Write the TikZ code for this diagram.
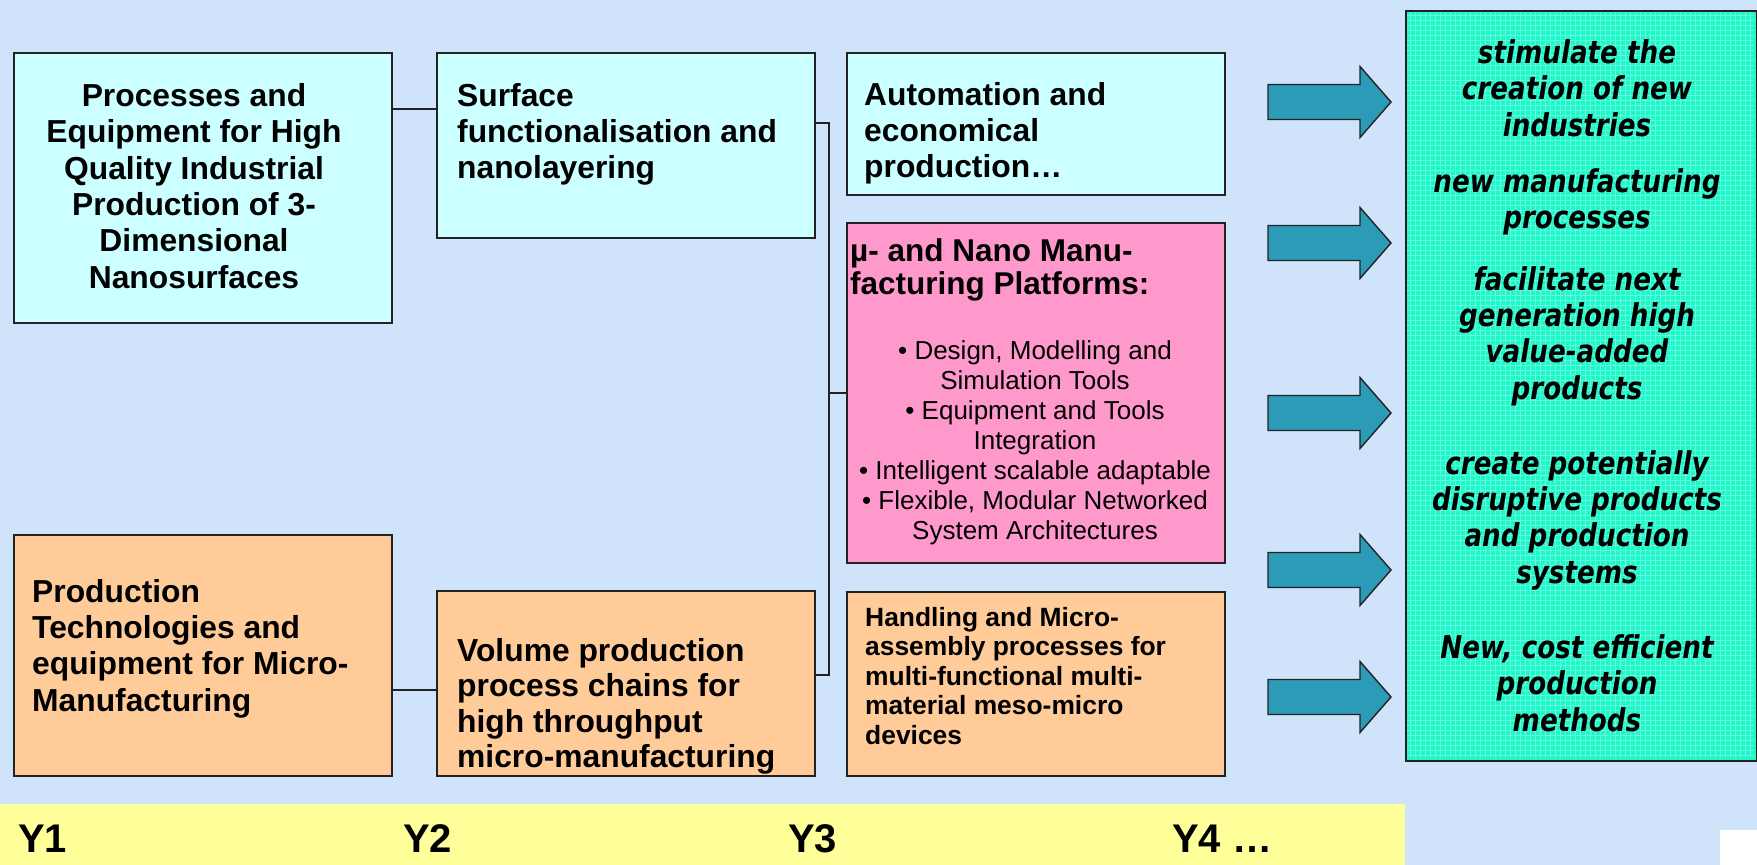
\documentclass[tikz,border=0pt]{standalone}
\usepackage{fontspec}
\usepackage{graphicx}
\setmainfont{Liberation Sans}
\newfontfamily\vfont{DejaVu Sans}
\definecolor{bg}{HTML}{CFE3FA}
\definecolor{cyanbox}{HTML}{CCFFFF}
\definecolor{orangebox}{HTML}{FFCC99}
\definecolor{pinkbox}{HTML}{FF99CC}
\definecolor{greenbox}{HTML}{22F5C8}
\definecolor{greengrid}{HTML}{5CFFDD}
\definecolor{yellowband}{HTML}{FFFF99}
\definecolor{arrowfill}{HTML}{2C9BB8}
\definecolor{edge}{HTML}{222222}
\newcommand\boxfont{\fontsize{31.8pt}{36.3pt}\selectfont\bfseries}
\newcommand\gboxfont{\fontsize{31.8pt}{35.5pt}\selectfont\bfseries}
\newcommand\titlefont{\fontsize{31.5pt}{33.5pt}\selectfont\bfseries}
\newcommand\bulletfont{\fontsize{26pt}{30pt}\selectfont}
\newcommand\handfont{\fontsize{26.4pt}{29.5pt}\selectfont\bfseries}
\newcommand\greenfont{\fontsize{26.2pt}{30.3pt}\selectfont\vfont\bfseries\itshape}
\newcommand\yfont{\fontsize{40pt}{44pt}\selectfont\bfseries}
\newcommand\gtext[1]{\scalebox{1}[1.2]{\begin{tabular}{@{}c@{}}#1\end{tabular}}}
\begin{document}
\begin{tikzpicture}[x=1pt,y=-1pt,
  box/.style={draw=edge, line width=1.8pt, inner sep=0pt, anchor=north west},
  conn/.style={draw=edge, line width=1.6pt},
  txt/.style={inner sep=0pt, text=black},
  blockarrow/.style={fill=arrowfill, draw=edge, line width=1.4pt, line join=miter}]
% background
\fill[bg] (0,0) rectangle (1757,865);
\useasboundingbox (0,0) rectangle (1757,865);
% yellow band
\node[anchor=north west, fill=yellowband, inner sep=0pt, minimum width=1405pt, minimum height=62pt] (band) at (0,804) {};
% boxes
\node[box, fill=cyanbox, minimum width=378pt, minimum height=270pt] (A) at (13,52) {};
\node[box, fill=cyanbox, minimum width=378pt, minimum height=185pt] (B) at (436,52) {};
\node[box, fill=cyanbox, minimum width=378pt, minimum height=142pt] (C) at (846,52) {};
\node[box, fill=pinkbox, minimum width=378pt, minimum height=340pt] (D) at (846,222) {};
\node[box, fill=orangebox, minimum width=378pt, minimum height=184pt] (E) at (846,591) {};
\node[box, fill=orangebox, minimum width=378pt, minimum height=241pt] (F) at (13,534) {};
\node[box, fill=orangebox, minimum width=378pt, minimum height=185pt] (G) at (436,590) {};
\node[box, fill=greenbox, minimum width=351pt, minimum height=750pt] (H) at (1405,10) {};
\draw[greengrid, line width=0.9pt, step=5pt] (1407,12) grid (1754,758);
% connectors
\coordinate (ab) at (0,109);
\coordinate (fg) at (0,690);
\coordinate (bt) at (829,123);
\coordinate (bb) at (829,675);
\coordinate (bm) at (829,393);
\draw[conn] (A.east |- ab) -- (B.west |- ab);
\draw[conn] (F.east |- fg) -- (G.west |- fg);
\draw[conn] (B.east |- bt) -- (bt) -- (bb) -- (G.east |- bb);
\draw[conn] (bm) -- (D.west |- bm);
% block arrows
\foreach \c in {102,243,413,570,697}
  \draw[blockarrow] (1268,\c-17.5) -- (1360,\c-17.5) -- (1360,\c-35.5) -- (1391,\c)
     -- (1360,\c+35.5) -- (1360,\c+17.5) -- (1268,\c+17.5) -- cycle;
% texts
\node[txt, font=\boxfont, align=center] (tA) at (194,186)
  {Processes and\\Equipment for High\\Quality Industrial\\Production of 3-\\Dimensional\\Nanosurfaces};
\node[txt, font=\boxfont, align=left, anchor=north west] (tB) at (457,83)
  {Surface\\functionalisation and\\nanolayering};
\node[txt, font=\boxfont, align=left, anchor=north west] (tC) at (864,82)
  {Automation and\\economical\\production…};
\node[txt, font=\titlefont, align=left, anchor=north west] (tD) at (850,238)
  {µ- and Nano Manu-\\facturing Platforms:};
\node[txt, font=\bulletfont, align=center] (tDb) at (1035,443)
  {• Design, Modelling and\\Simulation Tools\\• Equipment and Tools\\Integration\\• Intelligent scalable adaptable\\• Flexible, Modular Networked\\System Architectures};
\node[txt, font=\handfont, align=left, anchor=north west] (tE) at (865,607)
  {Handling and Micro-\\assembly processes for\\multi-functional multi-\\material meso-micro\\devices};
\node[txt, font=\boxfont, align=left, anchor=north west] (tF) at (32,579)
  {Production\\Technologies and\\equipment for Micro-\\Manufacturing};
\node[txt, font=\gboxfont, align=left, anchor=north west] (tG) at (457,638)
  {Volume production\\process chains for\\high throughput\\micro-manufacturing};
% outcome texts
\node[txt, font=\greenfont] (g1) at (1577,92.5) {\gtext{stimulate the\\creation of new\\industries}};
\node[txt, font=\greenfont] (g2) at (1577,203.5) {\gtext{new manufacturing\\processes}};
\node[txt, font=\greenfont] (g3) at (1577,337.5) {\gtext{facilitate next\\generation high\\value-added\\products}};
\node[txt, font=\greenfont] (g4) at (1577,521.5) {\gtext{create potentially\\disruptive products\\and production\\systems}};
\node[txt, font=\greenfont] (g5) at (1577,687.5) {\gtext{New, cost efficient\\production\\methods}};
% years
\node[txt, font=\yfont, anchor=base west] (y1) at (18,852) {Y1};
\node[txt, font=\yfont, anchor=base west] (y2) at (403,852) {Y2};
\node[txt, font=\yfont, anchor=base west] (y3) at (788,852) {Y3};
\node[txt, font=\yfont, anchor=base west] (y4) at (1172,852) {Y4 …};
% small white patch
\fill[white] (1720,830) rectangle (1757,865);
\end{tikzpicture}
\end{document}
